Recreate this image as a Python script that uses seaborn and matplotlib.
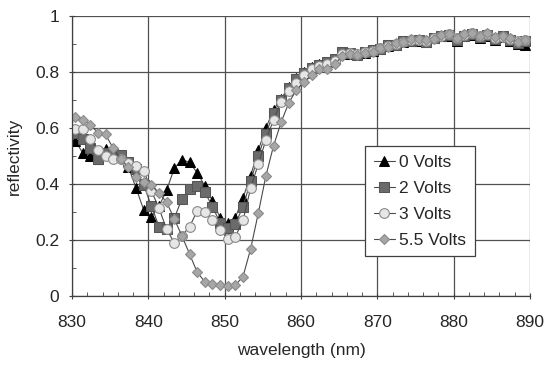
import numpy as np
import pandas as pd
import matplotlib
matplotlib.use("Agg")
import matplotlib.pyplot as plt
import seaborn as sns
from matplotlib.ticker import MultipleLocator, FuncFormatter

# wavelengths (nm)
wavelength = [830.4 + i for i in range(60)]

v0 = [0.554, 0.512, 0.500, 0.490, 0.524, 0.510, 0.500, 0.460, 0.385, 0.307,
      0.283, 0.320, 0.378, 0.456, 0.487, 0.477, 0.440, 0.393, 0.340, 0.280,
      0.260, 0.280, 0.350, 0.430, 0.520, 0.600, 0.665, 0.705, 0.745, 0.780,
      0.800, 0.818, 0.828, 0.835, 0.848, 0.868, 0.866, 0.863, 0.868, 0.876,
      0.882, 0.892, 0.898, 0.906, 0.912, 0.912, 0.906, 0.920, 0.928, 0.930,
      0.912, 0.928, 0.932, 0.922, 0.930, 0.915, 0.925, 0.912, 0.900, 0.898]

v2 = [0.581, 0.560, 0.527, 0.488, 0.512, 0.507, 0.504, 0.480, 0.452, 0.396,
      0.321, 0.248, 0.240, 0.278, 0.347, 0.382, 0.394, 0.371, 0.319, 0.262,
      0.242, 0.257, 0.319, 0.410, 0.500, 0.580, 0.652, 0.700, 0.742, 0.774,
      0.795, 0.815, 0.825, 0.835, 0.845, 0.870, 0.868, 0.862, 0.870, 0.878,
      0.882, 0.895, 0.898, 0.910, 0.912, 0.915, 0.908, 0.922, 0.930, 0.932,
      0.915, 0.930, 0.935, 0.925, 0.932, 0.918, 0.928, 0.915, 0.905, 0.910]

v3 = [0.595, 0.595, 0.560, 0.521, 0.500, 0.488, 0.488, 0.474, 0.464, 0.448,
      0.376, 0.313, 0.238, 0.190, 0.215, 0.248, 0.303, 0.300, 0.271, 0.236,
      0.204, 0.212, 0.270, 0.385, 0.471, 0.557, 0.629, 0.694, 0.733, 0.760,
      0.790, 0.810, 0.820, 0.830, 0.840, 0.865, 0.867, 0.866, 0.871, 0.876,
      0.884, 0.893, 0.900, 0.908, 0.915, 0.913, 0.910, 0.920, 0.930, 0.935,
      0.920, 0.932, 0.938, 0.930, 0.936, 0.922, 0.925, 0.918, 0.910, 0.915]

v55 = [0.640, 0.629, 0.611, 0.583, 0.577, 0.527, 0.489, 0.460, 0.426, 0.408,
       0.396, 0.367, 0.335, 0.275, 0.215, 0.150, 0.085, 0.051, 0.043, 0.039,
       0.036, 0.039, 0.069, 0.168, 0.295, 0.429, 0.536, 0.621, 0.690, 0.736,
       0.765, 0.789, 0.810, 0.810, 0.827, 0.857, 0.864, 0.861, 0.869, 0.873,
       0.885, 0.890, 0.902, 0.908, 0.917, 0.917, 0.914, 0.917, 0.932, 0.936,
       0.920, 0.936, 0.940, 0.929, 0.940, 0.926, 0.929, 0.920, 0.908, 0.914]

labels = ["0 Volts", "2 Volts", "3 Volts", "5.5 Volts"]

sns.set_style("white")
plt.rcParams['font.family'] = ['Liberation Sans', 'DejaVu Sans']

fig = plt.figure(figsize=(5.52, 3.69), dpi=100)
ax = fig.add_axes([72/552, 1-296/369, (530-72)/552, (296-16)/369])

styles = [
    dict(marker="^", markerfacecolor="black", markeredgecolor="black", markersize=7),
    dict(marker="s", markerfacecolor="#6b6b6b", markeredgecolor="#555555", markersize=6.5),
    dict(marker="o", markerfacecolor="#e6e6e6", markeredgecolor="#8a8a8a", markersize=7, markeredgewidth=0.8),
    dict(marker="D", markerfacecolor="#a6a6a6", markeredgecolor="#8a8a8a", markersize=5.5, markeredgewidth=0.8),
]

for vals, lab, st in zip([v0, v2, v3, v55], labels, styles):
    df = pd.DataFrame({"wavelength": wavelength, "reflectivity": vals})
    sns.lineplot(data=df, x="wavelength", y="reflectivity", ax=ax, label=lab,
                 color="#4a4a4a", linewidth=0.8, **st)

ax.set_xlim(830, 890)
ax.set_ylim(0, 1)
ax.xaxis.set_major_locator(MultipleLocator(10))
ax.xaxis.set_minor_locator(MultipleLocator(2))
ax.yaxis.set_major_locator(MultipleLocator(0.2))
ax.yaxis.set_minor_locator(MultipleLocator(0.1))
ax.yaxis.set_major_formatter(FuncFormatter(lambda v, p: f"{v:g}"))
ax.grid(True, which="major", color="#505050", linewidth=0.9)
ax.set_axisbelow(True)
for s in ["top", "right"]:
    ax.spines[s].set_visible(False)
for s in ["left", "bottom"]:
    ax.spines[s].set_color("#404040")
    ax.spines[s].set_linewidth(0.9)
ax.tick_params(axis="both", which="major", labelsize=12.5, length=4, color="#404040", direction="inout")
ax.tick_params(axis="x", which="major", pad=12, bottom=True)
ax.tick_params(axis="y", which="major", pad=7, left=True)
ax.tick_params(axis="x", which="minor", length=3, direction="in", color="#404040", bottom=True)
ax.tick_params(axis="y", which="minor", length=3, direction="in", color="#404040", left=True)

ax.set_xlabel("wavelength (nm)", fontsize=12.5, labelpad=9)
ax.set_ylabel("reflectivity", fontsize=12.5, labelpad=10)

leg = ax.legend(loc="upper left", bbox_to_anchor=((365-72)/458, 1-(146-16)/280),
                frameon=True, fancybox=False, fontsize=12.5, handlelength=1.2,
                handletextpad=0.25, borderpad=0.5, labelspacing=0.62, borderaxespad=0)
leg.get_frame().set_edgecolor("#404040")
leg.get_frame().set_linewidth(0.9)
leg.get_frame().set_facecolor("white")
leg.get_frame().set_alpha(1)

fig.savefig("out.png", dpi=100)
